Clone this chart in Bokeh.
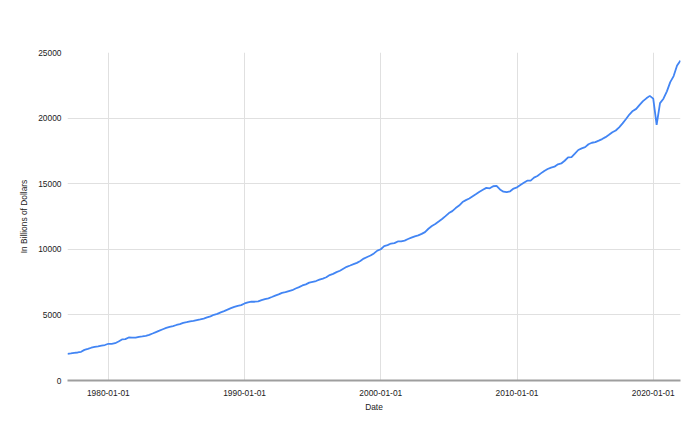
import pandas as pd
from bokeh.plotting import figure
from bokeh.models import FixedTicker, DatetimeTickFormatter, Range1d, Label, ColumnDataSource
from bokeh.embed import file_html
from bokeh.resources import INLINE

title_text = "U.S. GDP"
x_label = "Date"
y_label = "In Billions of Dollars"
start_date = "1977-01-01"

# Quarterly U.S. GDP (billions of dollars), 1977 Q1 .. 2022 Q1
gdp = [
    2031, 2067, 2109, 2135,      # 1977
    2190, 2333, 2406, 2498,      # 1978
    2562, 2605, 2658, 2704,      # 1979
    2799, 2794, 2843, 2973,      # 1980
    3127, 3150, 3276, 3274,      # 1981
    3274, 3332, 3367, 3407,      # 1982
    3480, 3584, 3692, 3797,      # 1983
    3909, 4010, 4085, 4148,      # 1984
    4231, 4294, 4387, 4445,      # 1985
    4507, 4545, 4608, 4657,      # 1986
    4722, 4806, 4885, 5007,      # 1987
    5073, 5191, 5283, 5399,      # 1988
    5511, 5612, 5695, 5748,      # 1989
    5873, 5960, 6016, 6004,      # 1990
    6035, 6127, 6205, 6264,      # 1991
    6364, 6470, 6566, 6680,      # 1992
    6729, 6809, 6883, 7013,      # 1993
    7115, 7246, 7331, 7456,      # 1994
    7523, 7581, 7684, 7772,      # 1995
    7868, 8033, 8131, 8259,      # 1996
    8363, 8518, 8665, 8765,      # 1997
    8867, 8966, 9111, 9294,      # 1998
    9412, 9526, 9686, 9900,      # 1999
    10002, 10248, 10319, 10440,  # 2000
    10470, 10599, 10598, 10661,  # 2001
    10784, 10887, 10985, 11062,  # 2002
    11175, 11312, 11567, 11770,  # 2003
    11923, 12112, 12305, 12527,  # 2004
    12762, 12910, 13142, 13333,  # 2005
    13604, 13750, 13868, 14038,  # 2006
    14209, 14383, 14535, 14681,  # 2007
    14651, 14806, 14836, 14559,  # 2008
    14395, 14352, 14420, 14629,  # 2009
    14722, 14899, 15066, 15231,  # 2010
    15239, 15461, 15588, 15786,  # 2011
    15974, 16121, 16227, 16297,  # 2012
    16475, 16541, 16749, 16999,  # 2013
    17025, 17286, 17570, 17692,  # 2014
    17784, 18003, 18121, 18168,  # 2015
    18280, 18402, 18548, 18731,  # 2016
    18920, 19056, 19300, 19597,  # 2017
    19927, 20272, 20544, 20704,  # 2018
    21010, 21290, 21505, 21694,  # 2019
    21481, 19477, 21139, 21478,  # 2020
    22038, 22741, 23202, 24002,  # 2021
    24386,                       # 2022
]

x_tick_dates = ["1980-01-01", "1990-01-01", "2000-01-01", "2010-01-01", "2020-01-01"]
y_ticks = [0, 5000, 10000, 15000, 20000, 25000]

dates = pd.date_range(start_date, periods=len(gdp), freq="QS")
source = ColumnDataSource(data=dict(date=dates, gdp=gdp))

x_ticks_ms = [pd.Timestamp(d).value / 1e6 for d in x_tick_dates]

W, H = 700, 434
BL, BR, BT, BB = 67, 20, 52, 54
Y_MAX = 25000

p = figure(width=W, height=H, x_axis_type="datetime",
           output_backend="svg", toolbar_location=None,
           min_border_left=BL, min_border_right=BR,
           min_border_top=BT, min_border_bottom=BB)
p.x_range = Range1d(dates[0], dates[-1])
p.y_range = Range1d(0, Y_MAX)
p.title_location = None

p.line("date", "gdp", source=source, line_color="#4285F4", line_width=1.8)

FONT = "Liberation Sans"

# Title placed above the frame: convert the desired pixel offset into data units
start_ms = dates[0].value / 1e6
end_ms = dates[-1].value / 1e6
frame_w = W - BL - BR
frame_h = H - BT - BB
ms_per_px = (end_ms - start_ms) / frame_w
val_per_px = Y_MAX / frame_h
title_x = start_ms - (BL - 20) * ms_per_px
title_y = Y_MAX + (BT - 31) * val_per_px
p.add_layout(Label(x=title_x, y=title_y, text=title_text, text_font=FONT,
                   text_font_size="14px", text_font_style="bold",
                   text_color="#757575", text_align="left",
                   text_baseline="alphabetic"))

p.outline_line_color = None
p.background_fill_color = "white"
p.border_fill_color = "white"

xa = p.xaxis[0]
xa.ticker = FixedTicker(ticks=x_ticks_ms)
xa.formatter = DatetimeTickFormatter(
    years="%Y-%m-%d", months="%Y-%m-%d", days="%Y-%m-%d",
    hours="%Y-%m-%d", minutes="%Y-%m-%d", seconds="%Y-%m-%d",
    milliseconds="%Y-%m-%d", microseconds="%Y-%m-%d", minsec="%Y-%m-%d",
    hourmin="%Y-%m-%d")
xa.axis_label = x_label
xa.axis_line_color = "#9e9e9e"
xa.axis_line_width = 2
xa.major_tick_line_color = None
xa.minor_tick_line_color = None
xa.major_label_standoff = 3
xa.axis_label_standoff = 3

ya = p.yaxis[0]
ya.ticker = FixedTicker(ticks=y_ticks)
ya.axis_label = y_label
ya.axis_line_color = None
ya.major_tick_line_color = None
ya.minor_tick_line_color = None
ya.major_label_standoff = 0
ya.axis_label_standoff = 6

for ax in (xa, ya):
    ax.major_label_text_font = FONT
    ax.major_label_text_font_size = "8.4px"
    ax.major_label_text_color = "#222222"
    ax.axis_label_text_font = FONT
    ax.axis_label_text_font_size = "8.4px"
    ax.axis_label_text_font_style = "normal"
    ax.axis_label_text_color = "#222222"

p.xgrid[0].ticker = FixedTicker(ticks=x_ticks_ms)
p.ygrid[0].ticker = FixedTicker(ticks=y_ticks)
p.xgrid[0].grid_line_color = "#e0e0e0"
p.ygrid[0].grid_line_color = "#e0e0e0"

open("out.html", "w").write(file_html(p, INLINE))
